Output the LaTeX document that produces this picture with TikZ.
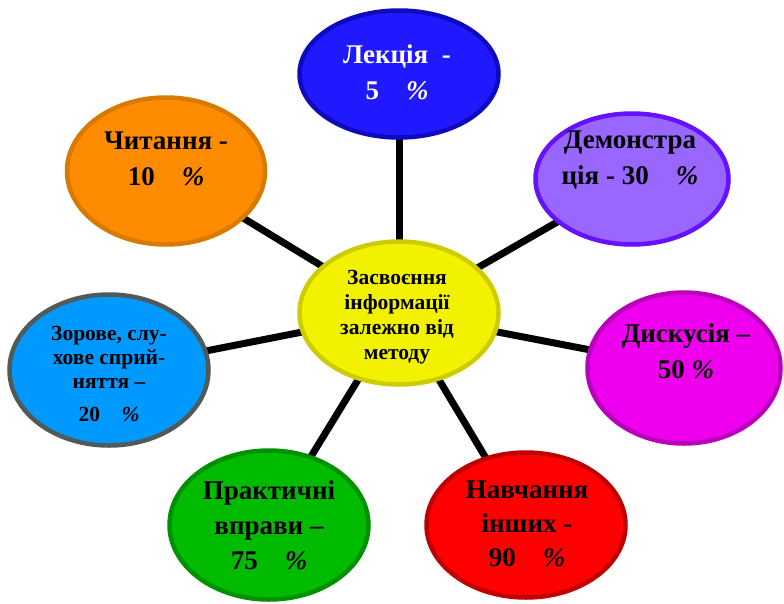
\documentclass[tikz,border=0pt]{standalone}
\usepackage{fontspec}
\setmainfont{Liberation Serif}
\usetikzlibrary{shapes.geometric,backgrounds}

\definecolor{coreFill}{RGB}{242,242,0}
\definecolor{coreLine}{RGB}{204,204,0}
\definecolor{lecFill}{RGB}{32,25,255}
\definecolor{lecLine}{RGB}{16,10,190}
\definecolor{demoFill}{RGB}{153,102,255}
\definecolor{demoLine}{RGB}{102,17,255}
\definecolor{discFill}{RGB}{238,0,238}
\definecolor{discLine}{RGB}{187,0,187}
\definecolor{teachFill}{RGB}{255,0,0}
\definecolor{teachLine}{RGB}{192,0,0}
\definecolor{pracFill}{RGB}{0,187,0}
\definecolor{pracLine}{RGB}{0,145,0}
\definecolor{visFill}{RGB}{0,153,255}
\definecolor{visLine}{RGB}{80,90,90}
\definecolor{readFill}{RGB}{255,140,0}
\definecolor{readLine}{RGB}{217,122,0}

\newcommand{\pct}{\textit{\%}}

\begin{document}
\begin{tikzpicture}[x=1pt,y=-1pt,
  bubble/.style={ellipse, line width=4.5pt, inner sep=0pt},
  link/.style={line width=7pt, draw=black},
  bigtext/.style={font=\bfseries\fontsize{27}{36}\selectfont, align=center, inner sep=0pt},
  smalltext/.style={font=\bfseries\fontsize{21.5}{24}\selectfont, align=center, inner sep=0pt},
  coretext/.style={font=\bfseries\fontsize{21.5}{25}\selectfont, align=center, inner sep=0pt}]
\useasboundingbox (0,0) rectangle (784,603);

% the hub and the seven surrounding methods
\node[bubble, fill=coreFill, draw=coreLine, minimum width=199, minimum height=143] (core) at (399,313) {};
\node[bubble, fill=lecFill, draw=lecLine, minimum width=199, minimum height=127] (lec) at (399,74) {};
\node[bubble, fill=demoFill, draw=demoLine, minimum width=193, minimum height=131] (demo) at (632,179) {};
\node[bubble, fill=discFill, draw=discLine, minimum width=193, minimum height=151] (disc) at (684,368) {};
\node[bubble, fill=teachFill, draw=teachLine, minimum width=199, minimum height=145] (teach) at (526,525) {};
\node[bubble, fill=pracFill, draw=pracLine, minimum width=199, minimum height=149] (prac) at (269,525) {};
\node[bubble, fill=visFill, draw=visLine, minimum width=199, minimum height=151] (vis) at (109,370) {};
\node[bubble, fill=readFill, draw=readLine, minimum width=198, minimum height=147] (read) at (166,171) {};

% spokes, kept behind the bubbles
\begin{pgfonlayer}{background}
  \foreach \n in {lec,demo,disc,teach,prac,vis,read}
    \draw[link] (core.center) -- (\n.center);
\end{pgfonlayer}

% labels
\node[coretext] (coreT) at (397,317) {Засвоєння\\інформації\\залежно від\\методу};
\node[bigtext, text=white] (lecT) at (397,72) {Лекція\ \ -\\5\quad\pct};
\node[bigtext] (demoT) at (630,160) {Демонстра\\ція - 30\quad\pct};
\node[bigtext] (discT) at (686,351) {Дискусія –\\50 \pct};
\node[bigtext, font=\bfseries\fontsize{27}{34}\selectfont] (teachT) at (527,524) {Навчання\\інших -\\90\quad\pct};
\node[bigtext, font=\bfseries\fontsize{27}{35}\selectfont] (pracT) at (269,525) {Практичні\\вправи –\\75\quad\pct};
\node[bigtext] (readT) at (166,159) {Читання -\\10\quad\pct};
\node[smalltext] (visT) at (109,357) {Зорове, слу-\\хове сприй-\\няття –};
\begin{scope}
  \clip (40,395) rectangle (180,422);
  \node[smalltext] (visP) at (109,414) {20\quad\pct};
\end{scope}
\end{tikzpicture}
\end{document}
